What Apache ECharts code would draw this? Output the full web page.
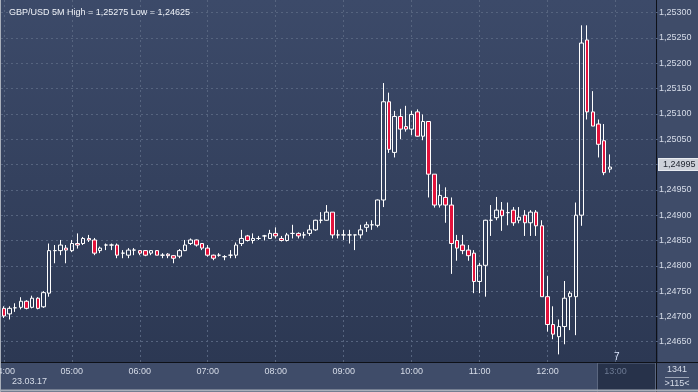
<!DOCTYPE html>
<html><head><meta charset="utf-8">
<script src="https://cdn.jsdelivr.net/npm/echarts@6/dist/echarts.min.js"></script>
<style>html,body{margin:0;padding:0;background:#3f4c69;}#c{width:698px;height:392px;}</style>
</head><body><div id="c"></div>
<script>
const titleText = 'GBP/USD 5M High = 1,25275 Low = 1,24625';
const dateText = '23.03.17';
const lastPrice = 1.24995;

// 5-minute slots from 04:00 (116 slots visible)
const categories = [];
for (let i = 0; i < 116; i++) {
  const m = 240 + i * 5;
  categories.push(String(Math.floor(m / 60)).padStart(2, '0') + ':' + String(m % 60).padStart(2, '0'));
}

const opens = [
1.24716,1.24705,1.24717,1.24718,1.24730,1.24718,1.24736,1.24719,1.24746,1.24830,
1.24830,1.24835,1.24830,1.24844,1.24844,1.24854,1.24851,1.24830,1.24841,1.24841,
1.24841,1.24825,1.24821,1.24831,1.24830,1.24830,1.24825,1.24830,1.24821,1.24823,
1.24820,1.24819,1.24830,1.24844,1.24851,1.24844,1.24835,1.24821,1.24821,1.24818,
1.24821,1.24821,1.24844,1.24859,1.24850,1.24854,1.24859,1.24854,1.24864,1.24854,
1.24850,1.24864,1.24864,1.24861,1.24864,1.24871,1.24890,1.24890,1.24906,1.24861,
1.24861,1.24861,1.24861,1.24861,1.24876,1.24881,1.24880,1.24930,1.25124,1.25024,
1.25095,1.25075,1.25070,1.25104,1.25056,1.25085,1.24981,1.24920,1.24935,1.24920,
1.24850,1.24841,1.24831,1.24825,1.24769,1.24801,1.24890,1.24895,1.24910,1.24905,
1.24910,1.24890,1.24900,1.24885,1.24906,1.24879,1.24739,1.24684,1.24660,1.24680,
1.24739,1.24739,1.24900,1.25246,1.25104,1.25080,1.25047,1.24991];
const closes = [
1.24701,1.24716,1.24717,1.24730,1.24716,1.24736,1.24716,1.24747,1.24830,1.24830,
1.24841,1.24831,1.24844,1.24841,1.24854,1.24851,1.24825,1.24835,1.24841,1.24841,
1.24821,1.24825,1.24831,1.24831,1.24825,1.24821,1.24830,1.24821,1.24821,1.24820,
1.24815,1.24830,1.24841,1.24851,1.24841,1.24835,1.24821,1.24815,1.24821,1.24818,
1.24821,1.24841,1.24854,1.24850,1.24854,1.24854,1.24859,1.24864,1.24859,1.24850,
1.24861,1.24864,1.24859,1.24861,1.24871,1.24890,1.24890,1.24906,1.24861,1.24861,
1.24861,1.24861,1.24861,1.24871,1.24881,1.24881,1.24930,1.25124,1.25030,1.25095,
1.25070,1.25070,1.25099,1.25056,1.25085,1.24981,1.24920,1.24939,1.24920,1.24844,
1.24835,1.24830,1.24820,1.24769,1.24801,1.24890,1.24890,1.24910,1.24899,1.24905,
1.24885,1.24896,1.24885,1.24906,1.24879,1.24739,1.24684,1.24665,1.24680,1.24736,
1.24746,1.24900,1.25240,1.25104,1.25076,1.25040,1.24984,1.24995];
const lows = [
1.24697,1.24694,1.24709,1.24714,1.24714,1.24716,1.24714,1.24717,1.24739,1.24805,
1.24821,1.24805,1.24827,1.24834,1.24841,1.24847,1.24821,1.24825,1.24831,1.24831,
1.24815,1.24815,1.24815,1.24821,1.24821,1.24819,1.24821,1.24821,1.24815,1.24815,
1.24805,1.24815,1.24829,1.24841,1.24838,1.24831,1.24818,1.24811,1.24818,1.24811,
1.24815,1.24815,1.24839,1.24848,1.24844,1.24851,1.24850,1.24853,1.24854,1.24848,
1.24848,1.24854,1.24854,1.24854,1.24859,1.24869,1.24884,1.24889,1.24854,1.24854,
1.24851,1.24844,1.24831,1.24854,1.24867,1.24871,1.24876,1.24916,1.25023,1.25014,
1.25050,1.25065,1.25058,1.25055,1.25048,1.24935,1.24915,1.24915,1.24885,1.24784,
1.24810,1.24823,1.24810,1.24746,1.24746,1.24739,1.24859,1.24890,1.24869,1.24880,
1.24879,1.24884,1.24859,1.24859,1.24859,1.24739,1.24670,1.24655,1.24625,1.24645,
1.24673,1.24663,1.24879,1.25089,1.25076,1.25014,1.24979,1.24984];
const highs = [
1.24720,1.24720,1.24726,1.24738,1.24732,1.24741,1.24738,1.24750,1.24844,1.24841,
1.24851,1.24841,1.24851,1.24864,1.24857,1.24861,1.24855,1.24838,1.24844,1.24844,
1.24844,1.24831,1.24835,1.24835,1.24831,1.24831,1.24831,1.24831,1.24825,1.24825,
1.24821,1.24833,1.24851,1.24854,1.24852,1.24845,1.24841,1.24822,1.24825,1.24821,
1.24831,1.24846,1.24871,1.24861,1.24864,1.24859,1.24861,1.24871,1.24876,1.24859,
1.24865,1.24881,1.24866,1.24867,1.24881,1.24891,1.24906,1.24920,1.24906,1.24871,
1.24871,1.24871,1.24861,1.24881,1.24887,1.24890,1.24931,1.25161,1.25142,1.25106,
1.25110,1.25116,1.25106,1.25109,1.25099,1.25085,1.24981,1.24961,1.24955,1.24935,
1.24861,1.24861,1.24841,1.24831,1.24806,1.24891,1.24920,1.24936,1.24926,1.24925,
1.24916,1.24916,1.24910,1.24910,1.24910,1.24890,1.24780,1.24720,1.24694,1.24770,
1.24750,1.24925,1.25275,1.25275,1.25145,1.25089,1.25080,1.25020];

const candleData = opens.map((o, i) => [o, closes[i], lows[i], highs[i]]);
const fmt = v => v.toFixed(5).replace('.', ',');
const FONT = 'Liberation Sans';

const chart = echarts.init(document.getElementById('c'), null, {renderer: 'canvas'});
chart.setOption({
  animation: false,
  backgroundColor: '#3f4c69',
  textStyle: {fontFamily: FONT},
  title: {text: titleText, left: 4, top: 3,
    textStyle: {color: '#eef1f7', fontSize: 9, fontWeight: 'normal', fontFamily: FONT}},
  grid: {left: 1, right: 40, top: 0, bottom: 30, show: true, borderWidth: 0,
    containLabel: false, outerBoundsMode: 'none',
    backgroundColor: new echarts.graphic.LinearGradient(0, 0, 0, 1, [
      {offset: 0, color: '#3c4a69'}, {offset: 1, color: '#2c3853'}])},
  xAxis: {
    type: 'category', data: categories, boundaryGap: true,
    axisLine: {show: false}, axisTick: {show: false},
    axisLabel: {
      interval: (i, v) => v.endsWith(':00'),
      alignMinLabel: 'center', alignMaxLabel: 'center',
      color: '#d6dce8', fontSize: 9, margin: 5,
      formatter: v => v === '13:00' ? '{dim|' + v + '}' : v,
      rich: {dim: {color: '#6c7992', fontSize: 9}}
    },
    splitLine: {show: true, interval: (i, v) => v.endsWith(':00'), alignWithLabel: true,
      lineStyle: {color: '#56647f', type: [2, 3], width: 1}}
  },
  yAxis: {
    type: 'value', position: 'right', min: 1.24610, max: 1.25325, splitNumber: 14,
    axisLine: {show: false}, axisTick: {show: false},
    axisLabel: {color: '#d6dce8', fontSize: 9, margin: 1, showMinLabel: false, showMaxLabel: false,
      formatter: v => {
        const r = v / 0.0005;
        if (Math.abs(v - 1.25) < 1e-7) return '';
        return Math.abs(r - Math.round(r)) < 1e-6 ? fmt(v) : '';
      }},
    splitLine: {show: true, showMinLine: false, showMaxLine: false,
      lineStyle: {color: '#56647f', type: [2, 3], width: 1}}
  },
  series: [{
    type: 'candlestick', data: candleData, barWidth: 4,
    itemStyle: {color: 'transparent', color0: '#e3123c', borderColor: '#ffffff', borderColor0: '#ffffff', borderWidth: 1},
    markLine: {
      symbol: 'none', silent: true, animation: false,
      data: [{yAxis: lastPrice}],
      lineStyle: {color: 'rgba(0,0,0,0)', width: 0},
      label: {show: true, position: 'end', formatter: fmt(lastPrice), distance: 1,
        backgroundColor: '#cdd1d9', borderColor: '#e8ebf0', borderWidth: 1,
        color: '#1b202b', fontSize: 9, padding: [1, 3, 1, 4], fontFamily: FONT}
    }
  }],
  graphic: [
    {type: 'rect', z: -1, shape: {x: 597.5, y: 363, width: 58, height: 29},
      style: {fill: '#27324a', stroke: '#5b6780', lineWidth: 1}},
    {type: 'line', shape: {x1: 656.5, y1: 0, x2: 656.5, y2: 392}, style: {stroke: '#0e1118', lineWidth: 1}},
    {type: 'line', shape: {x1: 0, y1: 362.5, x2: 698, y2: 362.5}, style: {stroke: '#0e1118', lineWidth: 1}},
    {type: 'line', shape: {x1: 0.5, y1: 0, x2: 0.5, y2: 392}, style: {stroke: '#a9afba', lineWidth: 1}},
    {type: 'line', shape: {x1: 0, y1: 390.5, x2: 698, y2: 390.5}, style: {stroke: '#a9afba', lineWidth: 2}},
    {type: 'text', x: 12, y: 377, style: {text: dateText, fill: '#d6dce8', fontSize: 9, fontFamily: FONT}},
    {type: 'text', x: 614, y: 352, style: {text: '7', fill: '#dfe8ff', fontSize: 10, fontFamily: FONT}},
    {type: 'text', x: 677, y: 365, style: {text: '1341', fill: '#d6dce8', fontSize: 9, align: 'center', fontFamily: FONT}},
    {type: 'line', shape: {x1: 665, y1: 377.5, x2: 689, y2: 377.5}, style: {stroke: '#9aa3b5', lineWidth: 1}},
    {type: 'text', x: 677, y: 379, style: {text: '>115<', fill: '#d6dce8', fontSize: 9, align: 'center', fontFamily: FONT}}
  ]
});
</script></body></html>
